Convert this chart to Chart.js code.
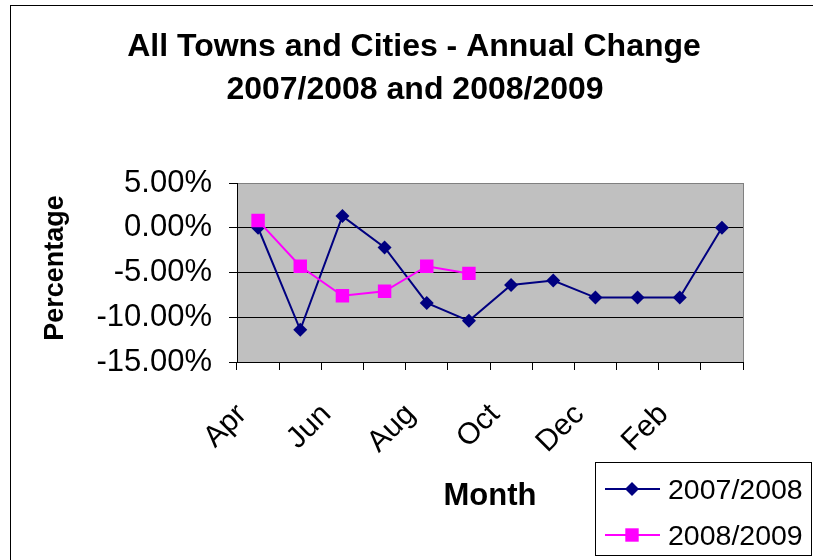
<!DOCTYPE html>
<html>
<head>
<meta charset="utf-8">
<title>All Towns and Cities - Annual Change</title>
<script src="https://cdn.jsdelivr.net/npm/chart.js@4.4.1/dist/chart.umd.min.js"></script>
<style>
  html, body { margin: 0; padding: 0; background: #fff; }
  #wrap { width: 813px; height: 560px; overflow: hidden; }
</style>
</head>
<body>
<div id="wrap"><canvas id="grafico" width="813" height="560"></canvas></div>
<script>
// --- DADOS ---
const meses = ['Apr', 'May', 'Jun', 'Jul', 'Aug', 'Sep', 'Oct', 'Nov', 'Dec', 'Jan', 'Feb', 'Mar'];
const serie0708 = [0, -11.4, 1.3, -2.2, -8.4, -10.4, -6.4, -5.9, -7.8, -7.8, -7.8, 0];
const serie0809 = [0.8, -4.3, -7.6, -7.1, -4.3, -5.1, null, null, null, null, null, null];
const nomesSeries = ['2007/2008', '2008/2009'];
const ticksY = [5, 0, -5, -10, -15];
const tituloLinhas = ['All Towns and Cities - Annual Change', '2007/2008 and 2008/2009'];

const AZUL = '#000080';
const ROSA = '#ff00ff';
const FONTE = '"Liberation Sans", Arial, Helvetica, sans-serif';

function marcador(ctx, tipo, x, y, cor) {
    ctx.fillStyle = cor;
    ctx.beginPath();
    if (tipo === 'diamante') {
        const r = 7;
        ctx.moveTo(x, y - r); ctx.lineTo(x + r, y); ctx.lineTo(x, y + r); ctx.lineTo(x - r, y);
    } else {
        const s = 6.7;
        ctx.rect(x - s, y - s, 2 * s, 2 * s);
    }
    ctx.closePath();
    ctx.fill();
}

// fundo cinza da area do grafico + borda
const fundoPlot = {
    id: 'fundoPlot',
    beforeDraw(chart) {
        const { ctx, chartArea: a } = chart;
        ctx.save();
        ctx.fillStyle = '#fff';
        ctx.fillRect(0, 0, chart.width, chart.height);
        ctx.fillStyle = '#c0c0c0';
        ctx.fillRect(a.left, a.top, a.right - a.left, a.bottom - a.top);
        ctx.restore();
    },
    beforeDatasetsDraw(chart) {
        const { ctx, chartArea: a } = chart;
        ctx.save();
        ctx.strokeStyle = '#808080';
        ctx.lineWidth = 1;
        ctx.beginPath();
        ctx.moveTo(Math.round(a.right) + 0.5, a.top);
        ctx.lineTo(Math.round(a.right) + 0.5, a.bottom);
        ctx.stroke();
        ctx.restore();
    }
};

// titulos, legenda, moldura
const textos = {
    id: 'textos',
    afterDraw(chart) {
        const ctx = chart.ctx;
        ctx.save();
        ctx.fillStyle = '#000';
        ctx.textBaseline = 'alphabetic';

        ctx.font = 'bold 32px ' + FONTE;
        ctx.textAlign = 'center';
        ctx.fillText(tituloLinhas[0], 414, 56);
        ctx.fillText(tituloLinhas[1], 415, 99);

        ctx.font = 'bold 31px ' + FONTE;
        ctx.fillText('Month', 490, 505);

        ctx.save();
        ctx.translate(63, 268);
        ctx.rotate(-Math.PI / 2);
        ctx.font = 'bold 27px ' + FONTE;
        ctx.fillText('Percentage', 0, 0);
        ctx.restore();

        // legenda
        ctx.strokeStyle = '#000';
        ctx.lineWidth = 1;
        ctx.strokeRect(595.5, 462.5, 216, 93);
        const itens = [
            { nome: nomesSeries[0], cor: AZUL, tipo: 'diamante', y: 489 },
            { nome: nomesSeries[1], cor: ROSA, tipo: 'quadrado', y: 535 }
        ];
        ctx.textAlign = 'left';
        ctx.font = '28.5px ' + FONTE;
        itens.forEach(it => {
            ctx.strokeStyle = it.cor;
            ctx.lineWidth = 2;
            ctx.beginPath();
            ctx.moveTo(605, it.y);
            ctx.lineTo(660, it.y);
            ctx.stroke();
            marcador(ctx, it.tipo, 632, it.y, it.cor);
            ctx.fillStyle = '#000';
            ctx.fillText(it.nome, 668, it.y + 10);
        });

        // moldura externa
        ctx.strokeStyle = '#000';
        ctx.lineWidth = 1;
        ctx.strokeRect(10.5, 5.5, 900, 900);
        ctx.restore();
    }
};

const grafico = new Chart(document.getElementById('grafico').getContext('2d'), {
    type: 'line',
    data: {
        labels: meses,
        datasets: [
            {
                label: nomesSeries[0], data: serie0708, order: 1,
                borderColor: AZUL, backgroundColor: AZUL, borderWidth: 2,
                pointStyle: 'rectRot', pointRadius: 7, pointBorderWidth: 0, tension: 0
            },
            {
                label: nomesSeries[1], data: serie0809, order: 0,
                borderColor: ROSA, backgroundColor: ROSA, borderWidth: 2,
                pointStyle: 'rect', pointRadius: 9.5, pointBorderWidth: 0, tension: 0
            }
        ]
    },
    options: {
        responsive: false,
        animation: false,
        events: [],
        layout: { padding: { left: 0, top: 183, right: 70, bottom: 0 } },
        plugins: { legend: { display: false }, title: { display: false }, tooltip: { enabled: false } },
        scales: {
            x: {
                type: 'category',
                offset: true,
                afterFit: s => { s.height = 198; },
                grid: { offset: true, drawOnChartArea: false, drawTicks: true, tickLength: 8, color: '#000', tickColor: '#000' },
                border: { display: true, color: '#000', width: 1 },
                ticks: {
                    autoSkip: false, minRotation: 45, maxRotation: 45,
                    padding: 27, labelOffset: -16,
                    color: '#000', font: { family: FONTE, size: 30 },
                    callback: (v, i) => (i % 2 === 0 ? meses[i] : '')
                }
            },
            y: {
                min: -15, max: 5,
                afterFit: s => { s.width = 237; },
                afterBuildTicks: s => { s.ticks = ticksY.map(v => ({ value: v })); },
                grid: {
                    drawTicks: true, tickLength: 8, lineWidth: 1, tickColor: '#000',
                    color: c => (c.tick && c.tick.value === 5 ? '#808080' : '#000')
                },
                border: { display: true, color: '#000', width: 1 },
                ticks: {
                    padding: 17, color: '#000', font: { family: FONTE, size: 31 },
                    callback: v => (v === 0 ? 0 : v).toFixed(2) + '%'
                }
            }
        }
    },
    plugins: [fundoPlot, textos]
});
</script>
</body>
</html>
